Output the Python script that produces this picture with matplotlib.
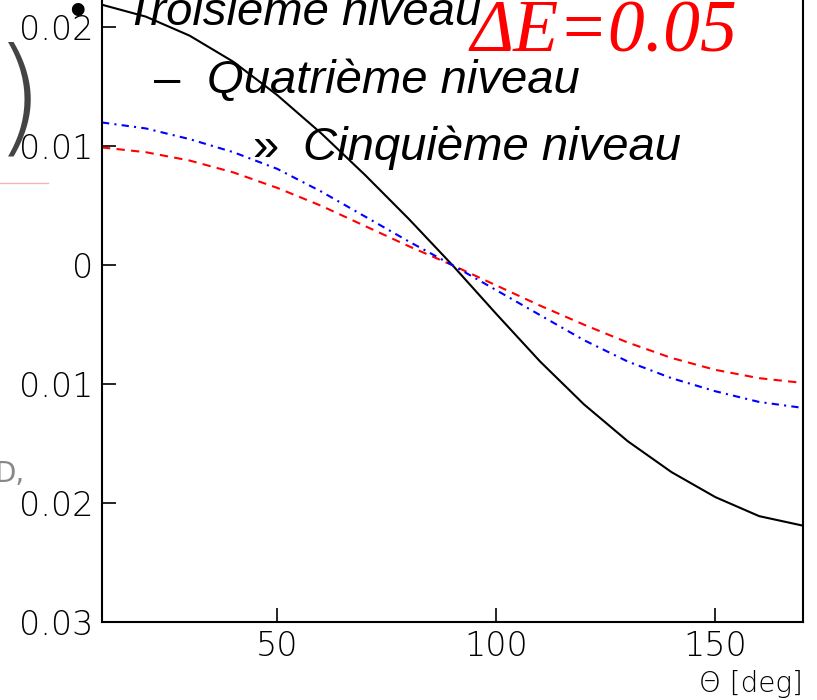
"""Slide crop: three angular curves (ROOT-style frame) with bullet-list text on top."""
import numpy as np
import matplotlib
matplotlib.use("Agg")
import matplotlib.pyplot as plt
from matplotlib.lines import Line2D

# angle grid [deg] and the three curves
theta_deg = [10, 20, 30, 40, 50, 60, 70, 80, 90, 100, 110, 120, 130, 140, 150, 160, 170]
solid_black = [0.0219, 0.0209, 0.0193, 0.0171, 0.0143, 0.0111, 0.0076, 0.0039, 0.0000,
               -0.0041, -0.0081, -0.0117, -0.0148, -0.0174, -0.0195, -0.0211, -0.0219]
dashed_red = [0.0099, 0.0095, 0.0088, 0.0078, 0.0065, 0.0050, 0.0033, 0.0016, 0.0000,
              -0.0017, -0.0034, -0.0050, -0.0065, -0.0078, -0.0088, -0.0095, -0.0099]
dashdot_blue = [0.0120, 0.0115, 0.0106, 0.0095, 0.0081, 0.0062, 0.0041, 0.0020, 0.0000,
                -0.0021, -0.0042, -0.0063, -0.0081, -0.0095, -0.0106, -0.0115, -0.0120]

y_ticks = [0.02, 0.01, 0.0, -0.01, -0.02, -0.03]
y_tick_labels = ["0.02", "0.01", "0", "0.01", "0.02", "0.03"]   # minus signs fall off the crop
x_ticks = [50, 100, 150]
x_tick_labels = ["50", "100", "150"]

bullets = [("\u2022", "Troisième niveau"),
           ("\u2013", "Quatrième niveau"),
           ("\u00bb", "Cinquième niveau")]
delta_label = "\u0394E=0.05"

W, H = 817, 700
fig = plt.figure(figsize=(W / 100, H / 100), dpi=100)


def px(x, y):
    """pixel (from top-left) -> figure fraction"""
    return x / W, 1 - y / H


# frame: left 102px, right 803px, bottom 622px; top runs off the image
ymin, ymax = -0.03, 0.025
px_per_unit = (622 - 265.2) / 0.03
ax_h = (ymax - ymin) * px_per_unit
ax = fig.add_axes([102 / W, (H - 622) / H, (803 - 102) / W, ax_h / H])

ax.plot(theta_deg, solid_black, color="black", lw=1.5)
ax.plot(theta_deg, dashed_red, color="red", lw=1.5, dashes=(4, 3))
ax.plot(theta_deg, dashdot_blue, color="blue", lw=1.5, dashes=(3.5, 2.5, 1, 2.5))

ax.set_xlim(10, 170)
ax.set_ylim(ymin, ymax)
ax.set_yticks(y_ticks)
ax.set_yticklabels(y_tick_labels)
ax.set_xticks(x_ticks)
ax.set_xticklabels(x_tick_labels)
ax.tick_params(direction="in", length=10, width=1.2, labelsize=24, pad=6,
               labelcolor="black")
for lab in ax.get_xticklabels() + ax.get_yticklabels():
    lab.set_fontweight("light")
for s in ax.spines.values():
    s.set_linewidth(1.5)
ax.spines["top"].set_visible(False)

fig.text(*px(803, 692), "\u0398 [deg]", fontsize=20, fontweight="light",
         color="black", ha="right", va="baseline")

# bullet list text overlaid on the plot
bullet_pos = [(77, 25, 125), (167, 93, 207), (265, 160, 303)]
for (sym, txt), (bx, by, tx) in zip(bullets, bullet_pos):
    fig.text(*px(bx, by), sym, fontsize=34, family="Liberation Sans",
             ha="center", va="baseline")
    fig.text(*px(tx, by), txt, fontsize=34, family="Liberation Sans",
             style="italic", ha="left", va="baseline")

fig.text(*px(470, 52), delta_label, fontsize=53, color="red",
         family="Liberation Serif", style="italic", ha="left", va="baseline")

# left-edge leftovers of the cropped slide (y-axis title fragments)
fig.text(*px(-6, 140), ")", fontsize=92, color="#444444", fontweight="light",
         family="DejaVu Sans", ha="left", va="baseline")
fig.add_artist(Line2D([0, 48 / W], [1 - 183 / H] * 2, color="#f4b4b4", lw=1))
fig.text(*px(-6, 482), "D,", fontsize=20, color="#888888", ha="left", va="baseline")

fig.savefig("out.png", dpi=100)
